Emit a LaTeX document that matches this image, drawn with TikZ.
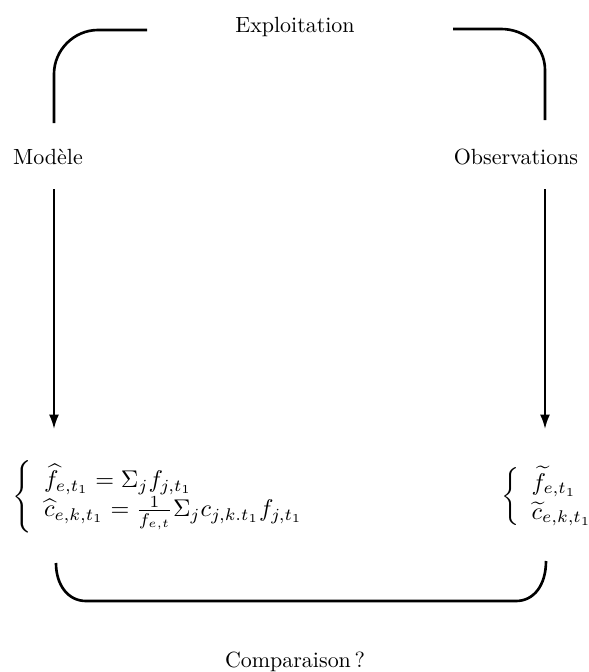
\documentclass[tikz,border=0pt]{standalone}
\usepackage{amsmath}
\usetikzlibrary{arrows.meta}

\tikzset{
  bracket/.style={line width=1.2pt},
  fleche/.style={line width=0.9pt, -{Latex[length=6.5pt,width=4.5pt]}},
  systeme/.style={anchor=west, inner sep=0pt, scale=1.1},
}

\begin{document}
\begin{tikzpicture}[x=0.455pt,y=-0.455pt]
\useasboundingbox (0,0) rectangle (589,672);

% labels
\node (expl) at (295,27) {Exploitation};
\node (mod) at (48,157) {Mod\`ele};
\node (obs) at (516,157) {Observations};
\node (comp) at (295,662) {Comparaison\,?};

% systems
\node[systeme] (est) at (12,497)
  {$\left\{\begin{array}{@{\hspace{5pt}}l}
     \widehat{f}_{e,t_1} = \Sigma_j f_{j,t_1}\\
     \widehat{c}_{e,k,t_1} = \frac{1}{f_{e,t}}\Sigma_j c_{j,k.t_1} f_{j,t_1}
   \end{array}\right.$};
\node[systeme] (mes) at (501,497)
  {$\left\{\begin{array}{@{\hspace{5pt}}l}
     \widetilde{f}_{e,t_1}\\
     \widetilde{c}_{e,k,t_1}
   \end{array}\right.$};

% end points
\coordinate (gh) at (54,123);
\coordinate (dh) at (545,120);
\coordinate (ga) at (54,189);
\coordinate (gb) at (54,429);
\coordinate (da) at (545,189);
\coordinate (db) at (545,429);
\coordinate (gbas) at (56,563);
\coordinate (dbas) at (546,561);

% top bracket
\draw[bracket] (gh) -- (54,74) .. controls (54,50) and (74,30) .. (98,30) -- (147,30);
\draw[bracket] (453,29) -- (501,29) .. controls (525,29) and (545,46) .. (545,70) -- (dh);

% arrows
\draw[fleche] (ga) -- (gb);
\draw[fleche] (da) -- (db);

% bottom bracket
\draw[bracket] (gbas) .. controls (56,585) and (68,601) .. (86,601) -- (516,601)
  .. controls (534,601) and (546,585) .. (dbas);

\end{tikzpicture}
\end{document}
